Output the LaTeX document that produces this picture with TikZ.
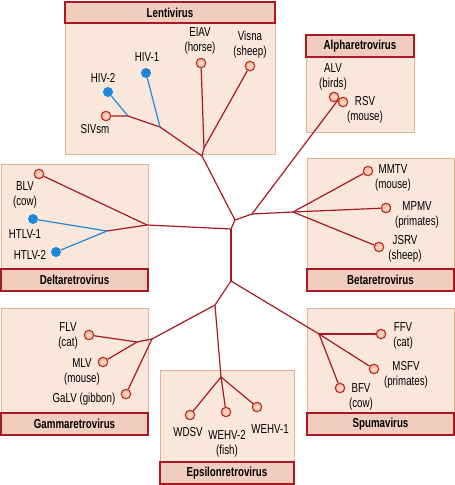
\documentclass[tikz,border=0pt]{standalone}
\usepackage{fontspec}
\setmainfont{Liberation Sans}[FakeStretch=0.75]
\usetikzlibrary{
	backgrounds,
	calc,
	shapes,
}
\definecolor{boxfill}{RGB}{250,231,220}
\definecolor{boxline}{RGB}{228,178,148}
\definecolor{hdrfill}{RGB}{240,205,188}
\definecolor{hdrline}{RGB}{170,25,35}
\definecolor{treeline}{RGB}{165,25,35}
\definecolor{hivblue}{RGB}{30,136,216}
\definecolor{dotfill}{RGB}{246,178,140}
\definecolor{dotline}{RGB}{185,45,40}
\pgfdeclarelayer{boxes}
\pgfdeclarelayer{lines}
\pgfsetlayers{boxes,lines,main}
\tikzset{
	grpbox/.style={fill=boxfill, draw=boxline, line width=0.9pt},
	hdrbox/.style={fill=hdrfill, draw=hdrline, line width=1.2pt},
	hdrtext/.style={font=\bfseries\fontsize{13}{15}\selectfont, inner sep=0pt},
	lbl/.style={font=\fontsize{13}{15}\selectfont, align=center, inner sep=0pt},
	odot/.style={circle, minimum size=9.5pt, inner sep=0pt, draw=dotline, line width=1.1pt,
		shading=radial, inner color=dotfill!40!white, outer color=dotfill},
	bdot/.style={circle, minimum size=10pt, inner sep=0pt, fill=hivblue},
	branch/.style={draw=treeline, line width=1.2pt},
	hivbranch/.style={draw=hivblue, line width=1.2pt},
}
\begin{document}
\begin{tikzpicture}[x=1pt, y=-1pt]
				\useasboundingbox (0,0) rectangle (455,485);
				% group boxes
				\begin{pgfonlayer}{boxes}
				\draw[grpbox] (65,2) rectangle (275,154);
				\draw[hdrbox] (65,2) rectangle (275,23);
				\draw[grpbox] (306,35) rectangle (414,132);
				\draw[hdrbox] (306,35) rectangle (414,57);
				\draw[grpbox] (307,158) rectangle (454,291);
				\draw[hdrbox] (307,269) rectangle (454,291);
				\draw[grpbox] (1,164) rectangle (148,291);
				\draw[hdrbox] (1,269) rectangle (148,291);
				\draw[grpbox] (1,308) rectangle (148,435);
				\draw[hdrbox] (1,413) rectangle (148,435);
				\draw[grpbox] (160,370) rectangle (294,484);
				\draw[hdrbox] (160,462) rectangle (294,484);
				\draw[grpbox] (307,308) rectangle (454,435);
				\draw[hdrbox] (307,413) rectangle (454,435);
				\end{pgfonlayer}
				\node[hdrtext] (lentiHdr) at (170,12.5) {Lentivirus};
				\node[hdrtext] (alphaHdr) at (360,46) {Alpharetrovirus};
				\node[hdrtext] (betaHdr) at (380.5,280) {Betaretrovirus};
				\node[hdrtext] (deltaHdr) at (74.5,280) {Deltaretrovirus};
				\node[hdrtext] (gammaHdr) at (74.5,424) {Gammaretrovirus};
				\node[hdrtext] (epsHdr) at (227,473) {Epsilonretrovirus};
				\node[hdrtext] (spumaHdr) at (380.5,424) {Spumavirus};
				% inner junctions
				\coordinate (rootA) at (235,220);
				\coordinate (rootB) at (231,229);
				\coordinate (rootC) at (231,281);
				\coordinate (alphaBeta) at (252,214);
				\coordinate (betaJ) at (293,212);
				\coordinate (alvRsv) at (338,100);
				\coordinate (lentiJ) at (202,156);
				\coordinate (equiJ) at (204,148);
				\coordinate (hivJ) at (160,127);
				\coordinate (sivJ) at (128,116);
				\coordinate (deltaJ) at (147,225);
				\coordinate (htlvJ) at (107,231);
				\coordinate (gammaEps) at (215,305);
				\coordinate (gammaJ) at (152,339);
				\coordinate (flvJ) at (137,342);
				\coordinate (epsJ) at (221,377);
				\coordinate (spumaJ) at (319,334);
				% leaves
				\node[odot] (sivsm) at (106,116) {};
				\node[bdot] (hiv2) at (108,92) {};
				\node[bdot] (hiv1) at (146,73) {};
				\node[odot] (eiav) at (201,63) {};
				\node[odot] (visna) at (250,66) {};
				\node[odot] (alv) at (334,97) {};
				\node[odot] (rsv) at (343,102) {};
				\node[odot] (mmtv) at (368,171) {};
				\node[odot] (mpmv) at (386,208) {};
				\node[odot] (jsrv) at (379,247) {};
				\node[odot] (blv) at (39,174) {};
				\node[bdot] (htlv1) at (33,219) {};
				\node[bdot] (htlv2) at (56,252) {};
				\node[odot] (flv) at (89,335) {};
				\node[odot] (mlv) at (103,362) {};
				\node[odot] (galv) at (126,394) {};
				\node[odot] (wdsv) at (190,415) {};
				\node[odot] (wehv2) at (226,412) {};
				\node[odot] (wehv1) at (257,407) {};
				\node[odot] (ffv) at (381,334) {};
				\node[odot] (msfv) at (374,369) {};
				\node[odot] (bfv) at (340,388) {};
				% labels
				\node[lbl] (sivsmLbl) at (95,129) {SIVsm};
				\node[lbl] (hiv2Lbl) at (103,78) {HIV-2};
				\node[lbl] (hiv1Lbl) at (147,57) {HIV-1};
				\node[lbl] (eiavLbl) at (200,41) {EIAV\\(horse)};
				\node[lbl] (visnaLbl) at (250,45) {Visna\\(sheep)};
				\node[lbl] (alvLbl) at (333,77) {ALV\\(birds)};
				\node[lbl] (rsvLbl) at (365,110) {RSV\\(mouse)};
				\node[lbl] (mmtvLbl) at (393,178) {MMTV\\(mouse)};
				\node[lbl] (mpmvLbl) at (417,215) {MPMV\\(primates)};
				\node[lbl] (jsrvLbl) at (405,249) {JSRV\\(sheep)};
				\node[lbl] (blvLbl) at (25,195) {BLV\\(cow)};
				\node[lbl] (htlv1Lbl) at (25,234) {HTLV-1};
				\node[lbl] (htlv2Lbl) at (30,255) {HTLV-2};
				\node[lbl] (flvLbl) at (68,336) {FLV\\(cat)};
				\node[lbl] (mlvLbl) at (82,372) {MLV\\(mouse)};
				\node[lbl] (galvLbl) at (84,399) {GaLV (gibbon)};
				\node[lbl] (wdsvLbl) at (188,432) {WDSV};
				\node[lbl] (wehv2Lbl) at (227,444) {WEHV-2\\(fish)};
				\node[lbl] (wehv1Lbl) at (270,429) {WEHV-1};
				\node[lbl] (ffvLbl) at (403,336) {FFV\\(cat)};
				\node[lbl] (msfvLbl) at (406,375) {MSFV\\(primates)};
				\node[lbl] (bfvLbl) at (361,397) {BFV\\(cow)};
				% tree
				\begin{pgfonlayer}{lines}
				\draw[branch] (rootB) -- (rootA) -- (alphaBeta) -- (betaJ);
				\draw[branch] (rootB) -- (rootC);
				\draw[branch] (alphaBeta) -- (alvRsv);
				\draw[branch] (betaJ) -- (mmtv);
				\draw[branch] (betaJ) -- (mpmv);
				\draw[branch] (betaJ) -- (jsrv);
				\draw[branch] (rootA) -- (lentiJ) -- (hivJ) -- (sivJ) -- (sivsm);
				\draw[branch] (lentiJ) -- (equiJ) -- (eiav);
				\draw[branch] (equiJ) -- (visna);
				\draw[hivbranch] (hivJ) -- (hiv1);
				\draw[hivbranch] (sivJ) -- (hiv2);
				\draw[branch] (rootB) -- (deltaJ) -- (blv);
				\draw[branch] (deltaJ) -- (htlvJ);
				\draw[hivbranch] (htlvJ) -- (htlv1);
				\draw[hivbranch] (htlvJ) -- (htlv2);
				\draw[branch] (rootC) -- (gammaEps) -- (gammaJ) -- (flvJ) -- (flv);
				\draw[branch] (flvJ) -- (mlv);
				\draw[branch] (gammaJ) -- (galv);
				\draw[branch] (gammaEps) -- (epsJ) -- (wdsv);
				\draw[branch] (epsJ) -- (wehv2);
				\draw[branch] (epsJ) -- (wehv1);
				\draw[branch] (rootC) -- (spumaJ) -- (msfv);
				\draw[branch] (spumaJ) -- (ffv);
				\draw[branch] (spumaJ) -- (bfv);
				\end{pgfonlayer}
			\end{tikzpicture}
\end{document}
